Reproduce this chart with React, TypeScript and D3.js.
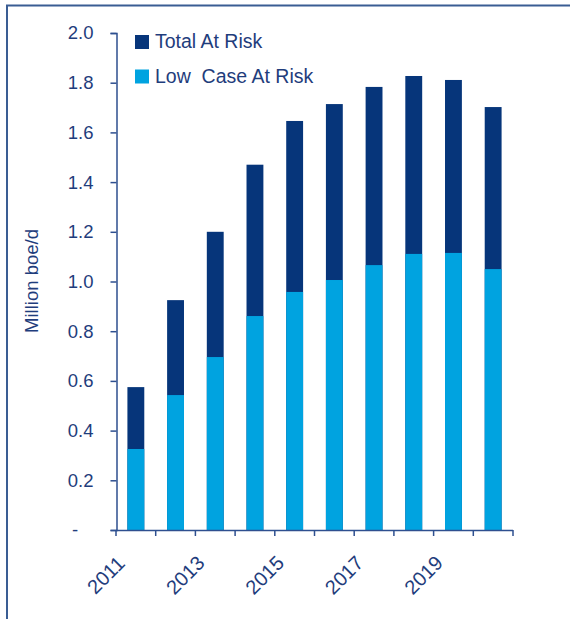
import React, { useEffect, useRef } from "react";
import * as d3 from "d3";

const years = ["2011", "2012", "2013", "2014", "2015", "2016", "2017", "2018", "2019", "2020"];
const totalAtRisk = [0.575, 0.925, 1.2, 1.47, 1.646, 1.714, 1.783, 1.827, 1.811, 1.702];
const lowCaseAtRisk = [0.326, 0.543, 0.696, 0.861, 0.958, 1.006, 1.066, 1.111, 1.115, 1.05];
const yTicks = [0, 0.2, 0.4, 0.6, 0.8, 1.0, 1.2, 1.4, 1.6, 1.8, 2.0];
const xLabels = ["2011", "2013", "2015", "2017", "2019"];

const DARK = "#06357a";
const LIGHT = "#00a3e0";
const TEXT = "#1f3d7c";
const AXIS = "#2e4f8f";
const FONT = "'Liberation Sans', Arial, sans-serif";

export default function App() {
  const svgRef = useRef<SVGSVGElement>(null);
  const width = 570;
  const height = 619;

  useEffect(() => {
    const svg = d3.select(svgRef.current);
    svg.selectAll("*").remove();

    // scales
    const x = d3.scaleBand<string>()
      .domain(years)
      .range([116, 513])
      .paddingInner(0.575)
      .paddingOuter(0.2875);

    const y = d3.scaleLinear().domain([0, 2]).range([530, 33]);

    // outer frame (top + left only)
    svg.append("path")
      .attr("d", `M7,${height} L7,5.5 L${width},5.5`)
      .attr("fill", "none")
      .attr("stroke", "#3a5d93")
      .attr("stroke-width", 2);

    // bars: total first, low case drawn over it
    svg.append("g")
      .selectAll("rect")
      .data(years)
      .enter()
      .append("rect")
      .attr("x", d => x(d)!)
      .attr("width", x.bandwidth())
      .attr("y", (_, i) => y(totalAtRisk[i]))
      .attr("height", (_, i) => y(0) - y(totalAtRisk[i]))
      .attr("fill", DARK);

    svg.append("g")
      .selectAll("rect")
      .data(years)
      .enter()
      .append("rect")
      .attr("x", d => x(d)!)
      .attr("width", x.bandwidth())
      .attr("y", (_, i) => y(lowCaseAtRisk[i]))
      .attr("height", (_, i) => y(0) - y(lowCaseAtRisk[i]))
      .attr("fill", LIGHT);

    // y axis
    const yAxis = svg.append("g")
      .attr("transform", "translate(116.5,0)")
      .call(
        d3.axisLeft(y)
          .tickValues(yTicks)
          .tickSize(6)
          .tickPadding(17)
          .tickFormat(d => (+d === 0 ? "-   " : d3.format(".1f")(+d)))
      );
    yAxis.select(".domain").attr("stroke", AXIS).attr("stroke-width", 1.5);
    yAxis.selectAll(".tick line").attr("stroke", AXIS).attr("stroke-width", 1.5);
    yAxis.selectAll(".tick text")
      .attr("fill", TEXT)
      .attr("font-family", FONT)
      .attr("font-size", 18.5)
      .style("white-space", "pre");

    // x axis with ticks between categories
    const bounds = years.map(d => x(d)! - (x.step() * x.paddingInner()) / 2);
    bounds.push(513);
    const xg = svg.append("g");
    xg.append("line")
      .attr("x1", 116)
      .attr("x2", 513)
      .attr("y1", 530.5)
      .attr("y2", 530.5)
      .attr("stroke", AXIS)
      .attr("stroke-width", 1.5);
    xg.selectAll("line.tk")
      .data(bounds)
      .enter()
      .append("line")
      .attr("class", "tk")
      .attr("x1", d => d)
      .attr("x2", d => d)
      .attr("y1", 530)
      .attr("y2", 536)
      .attr("stroke", AXIS)
      .attr("stroke-width", 1.5);

    xg.selectAll("text")
      .data(xLabels)
      .enter()
      .append("text")
      .attr("transform", d => `translate(${x(d)! + x.bandwidth() / 2 - 30},575) rotate(-45)`)
      .attr("text-anchor", "middle")
      .attr("dy", "0.35em")
      .attr("fill", TEXT)
      .attr("font-family", FONT)
      .attr("font-size", 20)
      .text(d => d);

    // y axis title
    svg.append("text")
      .attr("transform", "translate(32,281) rotate(-90)")
      .attr("text-anchor", "middle")
      .attr("dy", "0.35em")
      .attr("fill", TEXT)
      .attr("font-family", FONT)
      .attr("font-size", 18.5)
      .text("Million boe/d");

    // legend
    const legend = [
      { label: "Total At Risk", color: DARK },
      { label: "Low  Case At Risk", color: LIGHT },
    ];
    const lg = svg.append("g");
    lg.selectAll("rect")
      .data(legend)
      .enter()
      .append("rect")
      .attr("x", 135)
      .attr("y", (_, i) => 35 + i * 34.5)
      .attr("width", 14)
      .attr("height", 14)
      .attr("fill", d => d.color);
    lg.selectAll("text")
      .data(legend)
      .enter()
      .append("text")
      .attr("x", 155)
      .attr("y", (_, i) => 48 + i * 34.5)
      .attr("fill", TEXT)
      .attr("font-family", FONT)
      .attr("font-size", 19.5)
      .style("white-space", "pre")
      .text(d => d.label);
  }, []);

  return (
    <svg
      ref={svgRef}
      width={width}
      height={height}
      style={{ position: "absolute", left: 0, top: 0, background: "#fff" }}
    />
  );
}
